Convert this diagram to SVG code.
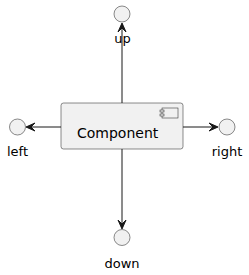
<svg xmlns="http://www.w3.org/2000/svg" width="249" height="275" viewBox="0 0 249 275">
<style>
.iface{fill:#F1F1F1;stroke:#181818;stroke-width:0.5}
.box{fill:#F1F1F1;stroke:#181818;stroke-width:0.5}
.edge{stroke:#181818;stroke-width:1;fill:none}
.head{fill:#181818;stroke:#181818;stroke-width:1}
text{font-family:"DejaVu Sans",sans-serif;font-size:14px;fill:#000}
text.lbl{font-size:13px}
</style>
<rect width="249" height="275" fill="#FFFFFF"/>
<g id="edges">
<line class="edge" x1="122" y1="103" x2="122" y2="24"/>
<polygon class="head" points="122,23 126,32 122,28 118,32"/>
<line class="edge" x1="61" y1="127" x2="27" y2="127"/>
<polygon class="head" points="26,127 35,123 31,127 35,131"/>
<line class="edge" x1="183" y1="127" x2="217" y2="127"/>
<polygon class="head" points="218,127 209,123 213,127 209,131"/>
<line class="edge" x1="122" y1="149" x2="122" y2="228"/>
<polygon class="head" points="122,229 126,220 122,224 118,220"/>
</g>
<g id="component">
<rect class="box" x="61" y="103" width="122" height="46" rx="2.5" ry="2.5"/>
<rect class="box" x="162" y="108" width="16" height="10"/>
<rect class="box" x="160" y="110" width="4" height="2"/>
<rect class="box" x="160" y="114" width="4" height="2"/>
<text x="77" y="138">Component</text>
</g>
<g id="up">
<circle class="iface" cx="122" cy="14" r="8"/>
<text class="lbl" x="122.5" y="43" text-anchor="middle">up</text>
</g>
<g id="left">
<circle class="iface" cx="17.5" cy="127" r="8"/>
<text class="lbl" x="17.5" y="156" text-anchor="middle">left</text>
</g>
<g id="right">
<circle class="iface" cx="227" cy="127" r="8"/>
<text class="lbl" x="227" y="156" text-anchor="middle">right</text>
</g>
<g id="down">
<circle class="iface" cx="122" cy="237.5" r="8"/>
<text class="lbl" x="122" y="268" text-anchor="middle">down</text>
</g>
</svg>
